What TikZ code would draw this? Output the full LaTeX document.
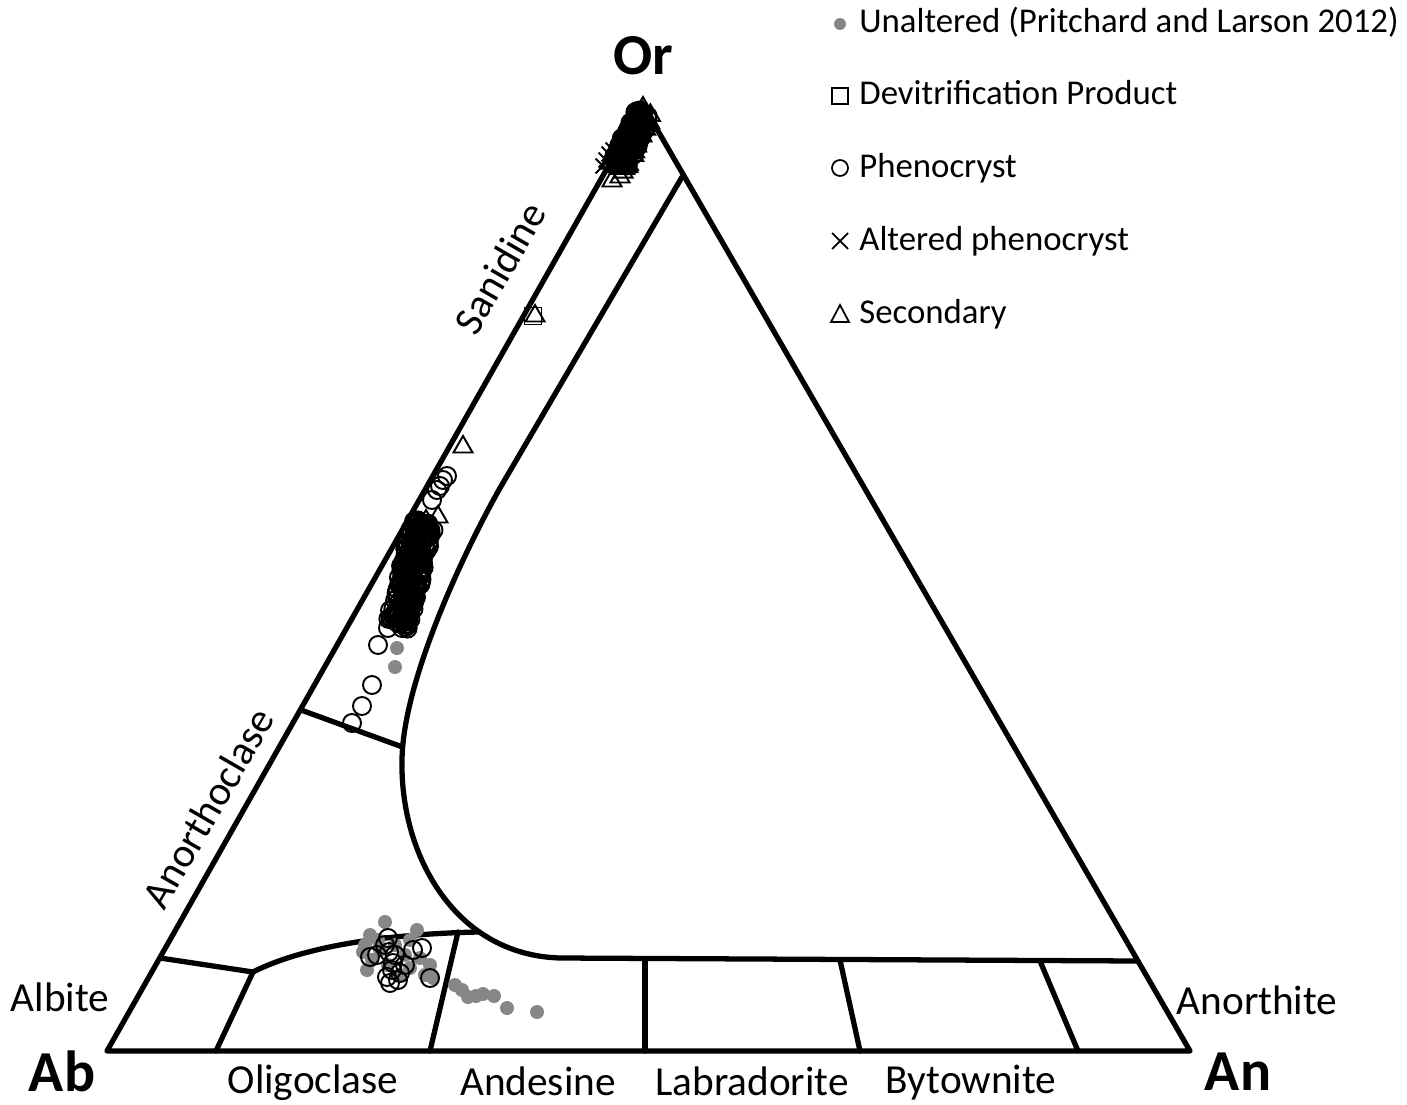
\documentclass[tikz,border=0pt]{standalone}
\usepackage{fontspec}
\setmainfont{Carlito}
\newcommand\mkCirc[1]{\draw[phen] (#1) circle (0.18cm);}
\newcommand\mkTri[1]{\draw[phen,line join=miter] (#1) +(90:0.22cm) -- +(210:0.22cm) -- +(330:0.22cm) -- cycle;}
\newcommand\mkSq[1]{\draw[phen] (#1) +(-0.17cm,-0.17cm) rectangle +(0.17cm,0.17cm);}
\newcommand\mkX[1]{\draw[phen] (#1) +(-0.15cm,-0.15cm) -- +(0.15cm,0.15cm) (#1) +(-0.15cm,0.15cm) -- +(0.15cm,-0.15cm);}
\begin{document}
\begin{tikzpicture}[x=0.02cm,y=-0.02cm,
  edge/.style={line width=3pt,line join=round,line cap=round},
  phen/.style={draw=black,line width=1.1pt},
  unalt/.style={fill=black!47},
  lab/.style={font=\fontsize{23.5}{28}\selectfont,inner sep=0pt},
  vert/.style={font=\bfseries\fontsize{33}{38}\selectfont,inner sep=0pt,anchor=base},
  leg/.style={font=\fontsize{19.8}{23}\selectfont,anchor=base west,inner sep=0pt}]
\useasboundingbox (0,0) rectangle (1407,1105);
\fill[white] (0,0) rectangle (1407,1105);
% vertices
\coordinate (Ab) at (107,1051);
\coordinate (An) at (1190,1051);
\coordinate (Or) at (643,105);
\coordinate (sanTop) at (682,177);
\coordinate (sanA) at (500,488);
\coordinate (sanB) at (402,760);
\coordinate (sanC) at (560,958);
\coordinate (sanR) at (1137,961);
\coordinate (divL) at (301,710);
\coordinate (divR) at (402.5,747);
\coordinate (plL) at (160,958);
\coordinate (plK) at (253,972);
\coordinate (plR) at (479,932);
% frame
\draw[edge] (Ab) -- (An) -- (Or) -- cycle;
\draw[edge] (sanTop) -- (sanA) .. controls (465,550) and (403,680) .. (sanB)
  .. controls (400,855) and (455,955) .. (sanC) -- (sanR);
\draw[edge] (divL) -- (divR);
\draw[edge] (plL) -- (plK) .. controls (300,948) and (380,934) .. (plR);
\draw[edge] (plK) -- (216,1051);
\draw[edge] (458,932) -- (430,1051);
\draw[edge] (645,959) -- (645,1051);
\draw[edge] (840,960) -- (860,1051);
\draw[edge] (1040,961) -- (1078,1051);
% unaltered dots
\foreach \p in {(385,922),(370,935),(378,940),(417,930),(367,970),(372,960),(380,950),(395,945),(405,955),(420,958),(430,965),(365,945),(388,965),(400,975),(410,968),(425,975),(433,978),(363,952),(410,940),(455,985),(462,990),(468,997),(476,996),(483,994),(494,996),(507,1008),(537,1012),(395,667),(397,648),(405,630),(410,600)}{
  \fill[unalt] \p circle (0.14cm);
}
% phenocrysts main sanidine cluster
\pgfmathsetseed{3}
\foreach \i in {1,...,230}{
  \pgfmathsetmacro\rt{rnd}\pgfmathsetmacro\ru{rand}
  \pgfmathsetmacro\xa{424-26*\rt+11*\ru}
  \pgfmathsetmacro\ya{522+104*\rt+4*\ru}
  \mkCirc{\xa,\ya}
}
\foreach \a/\b in {443/480,437/490,432/500,447/476,440/486,378/645,372/685,362/706,352/723,388/628,402/628}{
  \mkCirc{\a,\b}
}
% bottom phenocrysts
\foreach \a/\b in {388/938,370/957,377/955,413/950,422/948,430/978,392/970,390/983,387/977,400/973,393/963,385/945,395/955,398/980,405/965,389/952}{
  \mkCirc{\a,\b}
}
% secondary
\foreach \a/\b in {463/447,438/517,426/521}{
  \mkTri{\a,\b}
}
% devitrification product
\mkSq{533,316}
\mkTri{535,316}
% apex cluster
\pgfmathsetseed{5}
\foreach \i in {1,...,110}{
  \pgfmathsetmacro\rt{rnd}\pgfmathsetmacro\ru{rand}
  \pgfmathsetmacro\xa{616+28*\rt+9*\ru}
  \pgfmathsetmacro\ya{170-58*\rt+4*\ru}
  \mkTri{\xa,\ya}
}
\foreach \i in {1,...,80}{
  \pgfmathsetmacro\rt{rnd}\pgfmathsetmacro\ru{rand}
  \pgfmathsetmacro\xa{620+24*\rt+8*\ru}
  \pgfmathsetmacro\ya{162-50*\rt+4*\ru}
  \mkCirc{\xa,\ya}
}
\foreach \a/\b in {603/166,606/160,609/154,613/150}{
  \mkX{\a,\b}
}
\foreach \a/\b in {612/181,620/177,643/108}{
  \mkTri{\a,\b}
}
% labels
\node[vert] (lOr) at (643,75) {Or};
\node[vert] (lAb) at (62,1091) {Ab};
\node[vert] (lAn) at (1238,1090) {An};
\node[lab] (lAlb) at (60,997) {Albite};
\node[lab] (lAnt) at (1257,1000) {Anorthite};
\node[lab] (lOli) at (313,1083) {Oligoclase};
\node[lab] (lAnd) at (538,1081) {Andesine};
\node[lab] (lLab) at (752,1081) {Labradorite};
\node[lab] (lByt) at (971,1083) {Bytownite};
\node[lab,rotate=60] (lSan) at (500,268) {Sanidine};
\node[lab,rotate=60] (lAno) at (208,808) {Anorthoclase};
% legend
\fill[unalt] (840,24) circle (0.12cm);
\node[leg] (g1) at (859,33) {Unaltered (Pritchard and Larson 2012)};
\draw[line width=1pt] (832,88) rectangle (848,104);
\node[leg] (g2) at (859,105) {Devitrification Product};
\draw[line width=1pt] (840,168) circle (0.16cm);
\node[leg] (g3) at (859,177) {Phenocryst};
\draw[line width=1pt] (832,233) -- (848,249) (832,249) -- (848,233);
\node[leg] (g4) at (859,250) {Altered phenocryst};
\draw[line width=1pt,line join=miter] (840,305) -- (831,322) -- (849,322) -- cycle;
\node[leg] (g5) at (859,323) {Secondary};
\end{tikzpicture}
\end{document}
